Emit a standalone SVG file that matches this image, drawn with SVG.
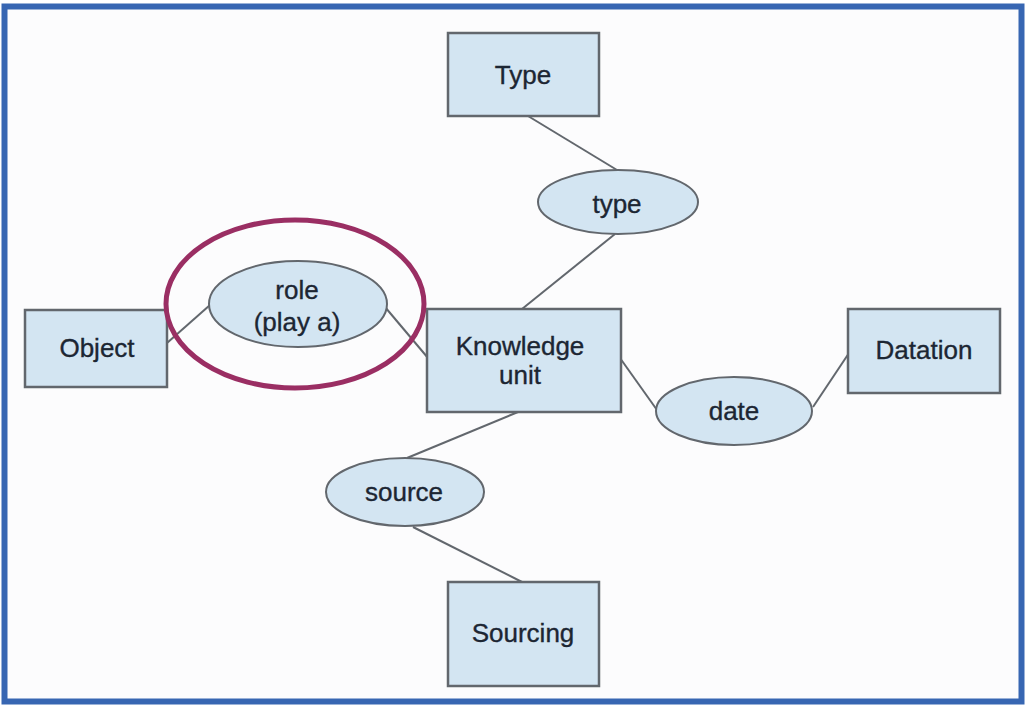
<svg xmlns="http://www.w3.org/2000/svg" width="1028" height="707" viewBox="0 0 1028 707">
<style>
.box{fill:#D3E5F2;stroke:#62676D;stroke-width:2.5}
.ell{fill:#D3E5F2;stroke:#62676D;stroke-width:2}
.lbl{font-family:"Liberation Sans",Arial,sans-serif;font-size:26px;fill:#1C2633;stroke:#1C2633;stroke-width:0.35;text-anchor:middle;dominant-baseline:central}
.con line{stroke:#62676D;stroke-width:2}
</style>
<rect x="0" y="0" width="1028" height="707" fill="#FFFFFF"/>
<rect x="4.5" y="6.5" width="1017" height="695" fill="#FCFCFD" stroke="#3766B2" stroke-width="6"/>
<g id="connectors" class="con">
<line x1="528" y1="116" x2="617" y2="170"/>
<line x1="615" y1="234" x2="522" y2="309"/>
<line x1="167" y1="343" x2="210" y2="305"/>
<line x1="385" y1="307" x2="428" y2="358"/>
<line x1="620" y1="358" x2="657" y2="410"/>
<line x1="813" y1="407" x2="849" y2="353"/>
<line x1="518" y1="412" x2="407" y2="458"/>
<line x1="413" y1="527" x2="522" y2="582"/>
</g>
<g id="node-Type"><rect class="box" x="448" y="33" width="151" height="83"/><text class="lbl" x="523" y="75">Type</text></g>
<g id="node-type"><ellipse class="ell" cx="618" cy="202" rx="80" ry="32"/><text class="lbl" x="617" y="204">type</text></g>
<g id="node-Object"><rect class="box" x="25" y="310" width="142" height="77"/><text class="lbl" x="97" y="348">Object</text></g>
<g id="node-role"><ellipse class="ell" cx="298" cy="304" rx="89" ry="43"/><text class="lbl" x="297" y="290">role</text><text class="lbl" x="297" y="322">(play a)</text></g>
<g id="node-Knowledge"><rect class="box" x="427" y="309" width="194" height="103"/><text class="lbl" x="520" y="346">Knowledge</text><text class="lbl" x="520" y="375">unit</text></g>
<g id="node-Datation"><rect class="box" x="848" y="309" width="152" height="84"/><text class="lbl" x="924" y="350">Datation</text></g>
<g id="node-date"><ellipse class="ell" cx="734" cy="411" rx="78" ry="34"/><text class="lbl" x="734" y="411">date</text></g>
<g id="node-source"><ellipse class="ell" cx="405" cy="492" rx="79" ry="34"/><text class="lbl" x="404" y="492">source</text></g>
<g id="node-Sourcing"><rect class="box" x="448" y="582" width="151" height="104"/><text class="lbl" x="523" y="633">Sourcing</text></g>
<g id="highlight"><ellipse cx="295" cy="304" rx="129" ry="84" fill="none" stroke="#9A2E63" stroke-width="5"/></g>
</svg>
